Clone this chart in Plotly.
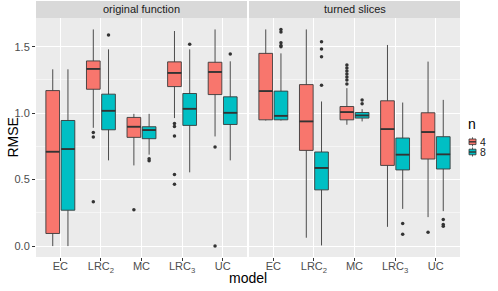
import plotly.graph_objects as go

# ---------------- data ----------------
categories = ["EC", "LRC<sub>2</sub>", "MC", "LRC<sub>3</sub>", "UC"]
facets = ["original function", "turned slices"]
groups = ["4", "8"]

# original function, n = 4
orig4_q1 = [0.095, 1.18, 0.818, 1.20, 1.14]
orig4_med = [0.71, 1.333, 0.898, 1.303, 1.31]
orig4_q3 = [1.17, 1.393, 0.968, 1.386, 1.383]
orig4_lo = [0.0, 0.89, 0.607, 0.963, 0.825]
orig4_hi = [1.33, 1.63, 0.995, 1.618, 1.63]
orig4_out = [[], [0.855, 0.82, 0.333], [0.273], [0.923, 0.9, 0.828, 0.538, 0.465], [0.745, 0.0]]

# original function, n = 8
orig8_q1 = [0.27, 0.875, 0.808, 0.908, 0.915]
orig8_med = [0.73, 1.018, 0.873, 1.033, 1.003]
orig8_q3 = [0.945, 1.143, 0.898, 1.148, 1.123]
orig8_lo = [0.0, 0.645, 0.688, 0.555, 0.645]
orig8_hi = [1.33, 1.48, 0.995, 1.48, 1.39]
orig8_out = [[], [1.588], [0.658, 0.643], [1.518], [1.445]]

# turned slices, n = 4
turn4_q1 = [0.95, 0.72, 0.95, 0.607, 0.655]
turn4_med = [1.166, 0.938, 1.008, 0.88, 0.858]
turn4_q3 = [1.45, 1.215, 1.05, 1.093, 1.003]
turn4_lo = [0.945, 0.063, 0.913, 0.145, 0.218]
turn4_hi = [1.63, 1.63, 1.188, 1.513, 1.388]
turn4_out = [[], [], [1.363, 1.34, 1.318, 1.295, 1.273, 1.25, 1.22], [], [0.105]]

# turned slices, n = 8
turn8_q1 = [0.95, 0.423, 0.963, 0.573, 0.58]
turn8_med = [0.98, 0.588, 0.983, 0.688, 0.69]
turn8_q3 = [1.166, 0.708, 1.005, 0.813, 0.823]
turn8_lo = [0.945, 0.005, 0.938, 0.28, 0.263]
turn8_hi = [1.45, 1.088, 1.03, 1.08, 1.10]
turn8_out = [[1.63, 1.61, 1.53, 1.51, 1.50], [1.538, 1.483, 1.425, 1.21], [1.10, 1.07], [0.17, 0.09], [0.2, 0.163, 0.15]]

colors = {"4": "#F8766D", "8": "#00BFC4"}
# --------------------------------------

series = [
    (0, "4", orig4_q1, orig4_med, orig4_q3, orig4_lo, orig4_hi, orig4_out),
    (0, "8", orig8_q1, orig8_med, orig8_q3, orig8_lo, orig8_hi, orig8_out),
    (1, "4", turn4_q1, turn4_med, turn4_q3, turn4_lo, turn4_hi, turn4_out),
    (1, "8", turn8_q1, turn8_med, turn8_q3, turn8_lo, turn8_hi, turn8_out),
]

dodge = 0.75
box_w = dodge / 2 * 0.9
base = list(range(1, len(categories) + 1))

fig = go.Figure()
for panel, g, q1, med, q3, lo, hi, out in series:
    shift = (-0.5 if g == "4" else 0.5) * dodge / 2
    xs = [b + shift for b in base]
    xa = "x" if panel == 0 else "x2"
    fig.add_trace(go.Box(
        x=xs, q1=q1, median=med, q3=q3, lowerfence=lo, upperfence=hi,
        width=box_w, whiskerwidth=0, boxpoints=False,
        fillcolor=colors[g], line=dict(color="#3A3A3A", width=0.9),
        name=g, showlegend=False, xaxis=xa, yaxis="y", hoverinfo="skip",
    ))
    # thicker median lines (ggplot style)
    mx, my = [], []
    for b, m in zip(xs, med):
        mx += [b - box_w / 2, b + box_w / 2, None]
        my += [m, m, None]
    fig.add_trace(go.Scatter(
        x=mx, y=my, mode="lines", line=dict(color="#333333", width=1.8),
        showlegend=False, xaxis=xa, yaxis="y", hoverinfo="skip",
    ))
    ox, oy = [], []
    for b, vals in zip(xs, out):
        for v in vals:
            ox.append(b)
            oy.append(v)
    fig.add_trace(go.Scatter(
        x=ox, y=oy, mode="markers", marker=dict(color="#333333", size=3.5),
        showlegend=False, xaxis=xa, yaxis="y", hoverinfo="skip",
    ))

W, H = 498, 291
ml, mr, mt, mb = 36, 38, 18, 34
pw = W - ml - mr
ph = H - mt - mb
gap = 2 / pw


def px(x):
    return (x - ml) / pw


def py(y):
    return (H - mb - y) / ph


axis_common = dict(
    range=[0.4, 5.6], tickvals=base, ticktext=categories,
    showgrid=True, gridcolor="white", gridwidth=1.1, zeroline=False,
    ticks="outside", ticklen=3, tickcolor="#333333", ticklabelstandoff=-4,
    tickfont=dict(size=11, color="#4D4D4D"), showline=False, automargin=False,
)
fig.update_layout(
    width=W, height=H,
    margin=dict(l=ml, r=mr, t=mt, b=mb, autoexpand=False),
    paper_bgcolor="white", plot_bgcolor="#EBEBEB",
    font=dict(family="Liberation Sans, Arial, sans-serif", color="#1A1A1A"),
    boxmode="overlay", showlegend=False, hovermode=False,
    xaxis=dict(domain=[0, 0.5 - gap / 2], **axis_common),
    xaxis2=dict(domain=[0.5 + gap / 2, 1], anchor="y", **axis_common),
    yaxis=dict(
        range=[-0.082, 1.716], tickvals=[0, 0.5, 1.0, 1.5],
        ticktext=["0.0", "0.5", "1.0", "1.5"],
        showgrid=True, gridcolor="white", gridwidth=1.1, zeroline=False,
        ticks="outside", ticklen=3, tickcolor="#333333", automargin=False,
        tickfont=dict(size=11, color="#4D4D4D"),
        minor=dict(dtick=0.25, tick0=0, showgrid=True, gridcolor="white", gridwidth=0.5, ticks=""),
    ),
)

# white gap between the panels
fig.add_shape(type="rect", xref="paper", yref="paper", x0=0.5 - gap / 2, x1=0.5 + gap / 2,
              y0=0, y1=1, fillcolor="white", line=dict(width=0), layer="above")

strip_h = 17 / ph
domains = [(0, 0.5 - gap / 2), (0.5 + gap / 2, 1)]
for (d0, d1), title in zip(domains, facets):
    fig.add_shape(type="rect", xref="paper", yref="paper", x0=d0, x1=d1,
                  y0=1, y1=1 + strip_h, fillcolor="#D9D9D9", line=dict(width=0))
    fig.add_annotation(text=title, xref="paper", yref="paper", x=(d0 + d1) / 2,
                       y=1 + strip_h / 2, showarrow=False, xanchor="center", yanchor="middle",
                       font=dict(size=11, color="#1A1A1A"))

fig.add_annotation(text="model", xref="paper", yref="paper", x=0.5, y=py(277.5),
                   xanchor="center", yanchor="middle", showarrow=False,
                   font=dict(size=14, color="black"))
fig.add_annotation(text="RMSE", xref="paper", yref="paper", x=px(12), y=0.5,
                   textangle=-90, xanchor="center", yanchor="middle", showarrow=False,
                   font=dict(size=14, color="black"))

# manual legend (ggplot style keys)
fig.add_annotation(text="n", xref="paper", yref="paper", x=px(466), y=py(124),
                   xanchor="left", yanchor="middle", showarrow=False,
                   font=dict(size=14, color="black"))
for g, yc in zip(groups, [141.8, 152]):
    fig.add_shape(type="line", xref="paper", yref="paper", x0=px(472.5), x1=px(472.5),
                  y0=py(yc - 4.5), y1=py(yc + 4.5), line=dict(color="#333333", width=0.8))
    fig.add_shape(type="rect", xref="paper", yref="paper", x0=px(469), x1=px(476),
                  y0=py(yc - 2.8), y1=py(yc + 2.8), fillcolor=colors[g],
                  line=dict(color="#333333", width=0.8))
    fig.add_shape(type="line", xref="paper", yref="paper", x0=px(469), x1=px(476),
                  y0=py(yc), y1=py(yc), line=dict(color="#333333", width=1.4))
    fig.add_annotation(text=g, xref="paper", yref="paper", x=px(479), y=py(yc),
                       xanchor="left", yanchor="middle", showarrow=False,
                       height=10, borderpad=0,
                       font=dict(size=10.5, color="#1A1A1A"))

fig.write_html("out.html", config={"displayModeBar": False, "staticPlot": True},
               post_script="document.body.style.margin='0';document.body.style.overflow='hidden';")
